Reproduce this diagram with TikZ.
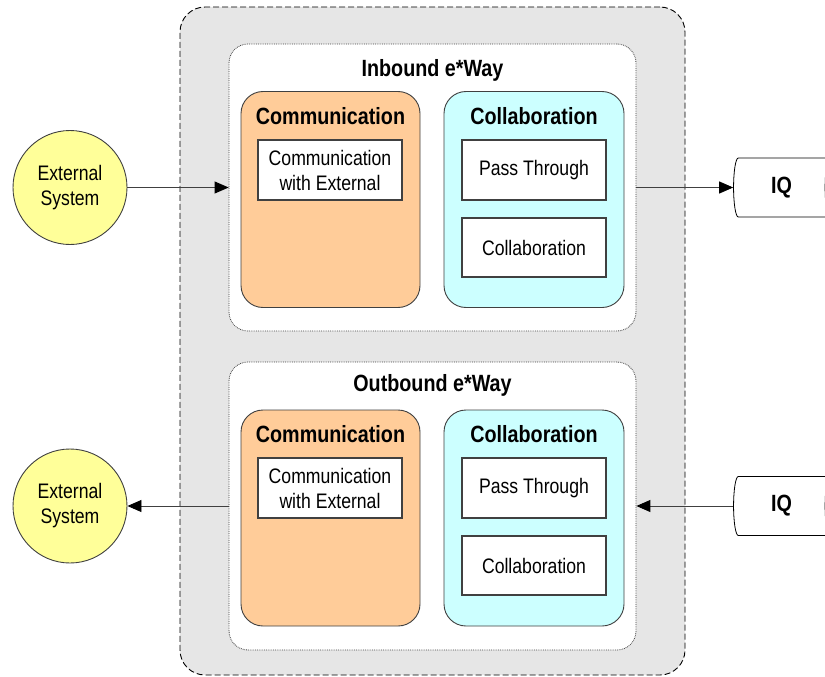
\documentclass[tikz,border=0pt]{standalone}
\usepackage{fontspec}
\setmainfont[FakeStretch=0.84]{Liberation Sans}
\usetikzlibrary{shapes.geometric,arrows.meta,positioning}

\definecolor{bgGray}{HTML}{E6E6E6}
\definecolor{commOrange}{HTML}{FFCC99}
\definecolor{collabCyan}{HTML}{CCFFFF}
\definecolor{extYellow}{HTML}{FFFF99}
\definecolor{lineGray}{HTML}{404040}

\tikzset{
  txt/.style={font=\fontsize{21}{25}\selectfont},
  ttl/.style={font=\fontsize{23.5}{28}\selectfont\bfseries},
  engine/.style={draw=black,dash pattern=on 6pt off 3pt,fill=bgGray,rounded corners=25pt,line width=0.9pt},
  eway/.style={draw=lineGray,densely dotted,fill=white,rounded corners=19pt,minimum width=407pt,line width=0.8pt},
  commbox/.style={draw=lineGray,fill=commOrange,rounded corners=22pt,minimum width=179pt,minimum height=216pt,line width=0.9pt},
  collabbox/.style={draw=lineGray,fill=collabCyan,rounded corners=22pt,minimum width=180pt,minimum height=216pt,line width=0.9pt},
  inner/.style={draw=lineGray,fill=white,minimum width=144pt,minimum height=60pt,line width=1.1pt,txt,align=center,inner sep=0pt},
  extsys/.style={circle,draw=lineGray,fill=extYellow,minimum size=114pt,line width=0.9pt,txt,align=center,inner sep=0pt},
  queue/.style={cylinder,draw=black,fill=white,aspect=0.45,minimum height=101pt,minimum width=59pt,ttl,inner sep=0pt,line width=0.8pt},
  arr/.style={-{Triangle[length=14pt,width=12pt,color=black]},draw=lineGray,line width=0.9pt}
}

\begin{document}
\begin{tikzpicture}[x=1pt,y=-1pt]
\clip (0,0) rectangle (825,677);

% e*Gate container
\node[engine,minimum width=505pt,minimum height=668pt] (engine) at (432.5,341) {};

% inbound e*Way
\node[eway,minimum height=287pt] (inbound) at (432.5,187.5) {};
\node[ttl] (inTitle) at (432.5,70) {Inbound e*Way};
\node[commbox] (commIn) at (330.5,199.5) {};
\node[ttl] (commInTitle) at (330.5,116) {Communication};
\node[inner] (commExtIn) at (330,170) {Communication\\with External};
\node[collabbox] (collabIn) at (534,199.5) {};
\node[ttl] (collabInTitle) at (534,116) {Collaboration};
\node[inner] (passIn) at (534,170) {Pass Through};
\node[inner,minimum height=59pt] (collabRuleIn) at (534,247.5) {Collaboration};

% outbound e*Way
\node[eway,minimum height=288pt] (outbound) at (432.5,506) {};
\node[ttl] (outTitle) at (432.5,385) {Outbound e*Way};
\node[commbox] (commOut) at (330.5,518) {};
\node[ttl] (commOutTitle) at (330.5,434) {Communication};
\node[inner] (commExtOut) at (330,488) {Communication\\with External};
\node[collabbox] (collabOut) at (534,518) {};
\node[ttl] (collabOutTitle) at (534,434) {Collaboration};
\node[inner] (passOut) at (534,488) {Pass Through};
\node[inner,minimum height=59pt] (collabRuleOut) at (534,565.5) {Collaboration};

% external systems and queues
\node[extsys] (extIn) at (70,187.5) {External\\System};
\node[extsys] (extOut) at (70,506) {External\\System};
\node[queue] (iqIn) at (781.5,187.5) {IQ};
\node[queue] (iqOut) at (781.5,506) {IQ};

\draw[arr] (extIn) -- (inbound);
\draw[arr] (inbound) -- (iqIn);
\draw[arr] (iqOut) -- (outbound);
\draw[arr] (outbound) -- (extOut);
\end{tikzpicture}
\end{document}
